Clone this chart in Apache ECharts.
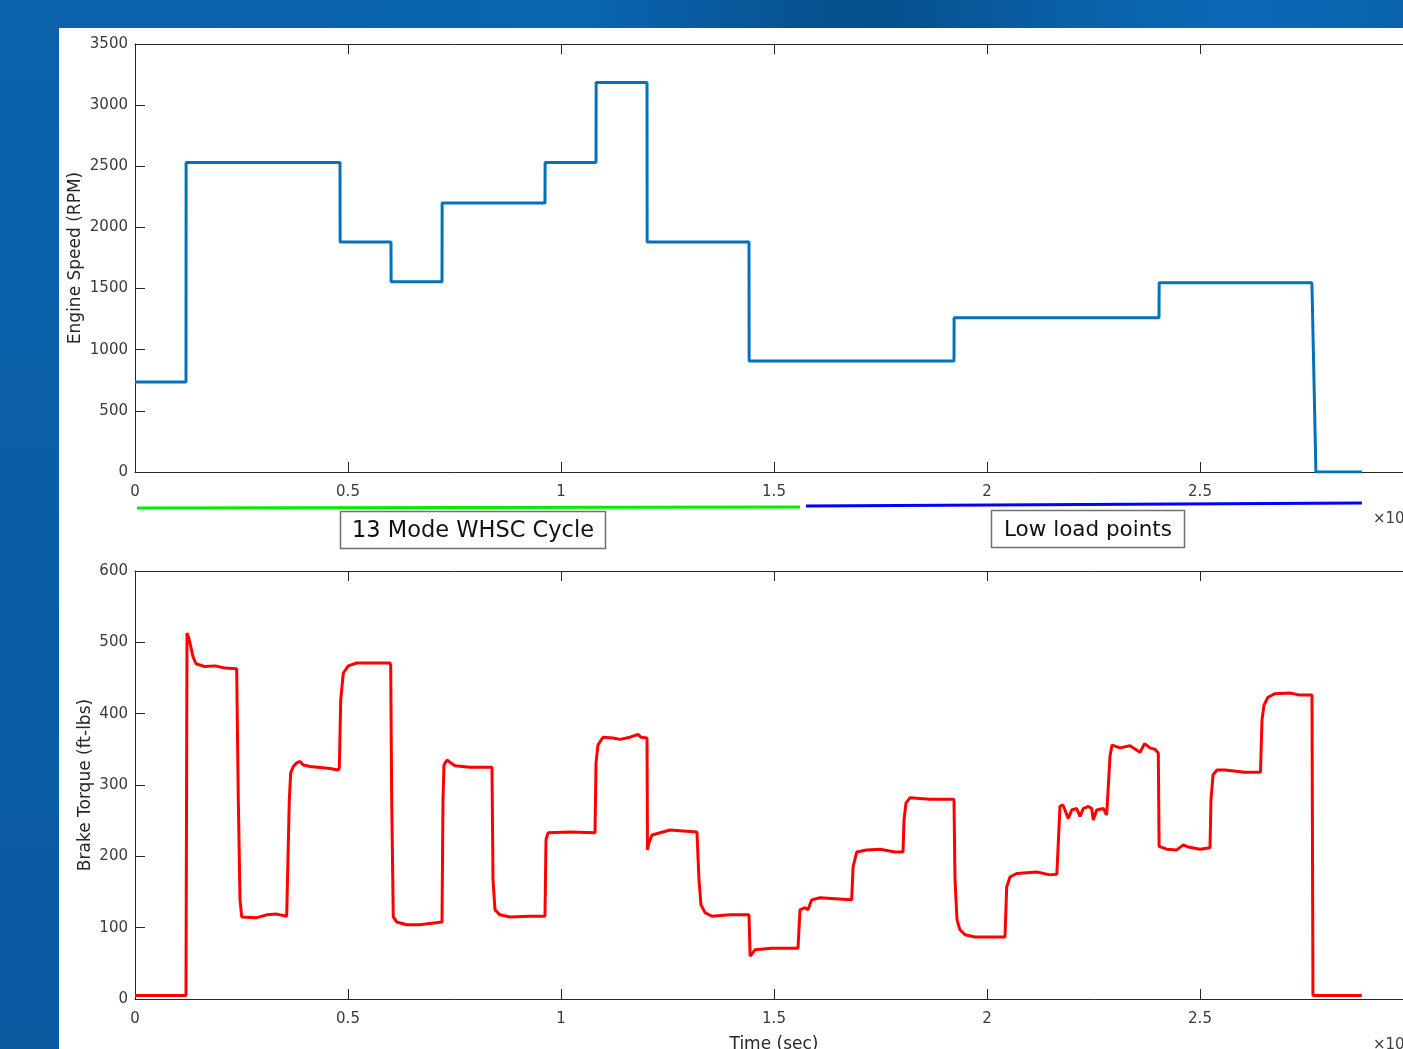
<!DOCTYPE html>
<html>
<head>
<meta charset="utf-8">
<script src="https://cdn.jsdelivr.net/npm/echarts/dist/echarts.min.js"></script>
<style>
html,body{margin:0;padding:0;overflow:hidden;width:1403px;height:1049px;}
body{background:linear-gradient(90deg,#0b61aa 0%,#0a64b0 42%,#07528f 58%,#06508c 63%,#0a60a6 76%,#0b69b7 88%,#0a62ad 100%);}
#bgleft{position:absolute;left:0;top:28px;width:59px;height:1021px;background:linear-gradient(180deg,#0a62ab,#0a5aa0);}
#paper{position:absolute;left:59px;top:28px;width:1420px;height:1040px;background:#ffffff;}
#chart{position:absolute;left:0;top:0;width:1460px;height:1049px;}
</style>
</head>
<body>
<div id="bgleft"></div>
<div id="paper"></div>
<div id="chart"></div>
<script>
// ---- data (time in seconds) ----
const speedTime = [0, 1197, 1200, 4812, 4815, 6009, 6012, 7207, 7210, 9624, 9627, 10822, 10825, 12019, 12022, 14413, 14416, 19225, 19228, 24038, 24041, 27627, 27721, 28800];
const speedRpm  = [735, 735, 2530, 2530, 1880, 1880, 1555, 1555, 2200, 2200, 2530, 2530, 3185, 3185, 1880, 1880, 908, 908, 1262, 1262, 1547, 1547, 0, 0];

const torqueTime = [0, 1197, 1221, 1268, 1361, 1432, 1643, 1878, 2113, 2387, 2425, 2465, 2505, 2542, 2857, 3092, 3326, 3561, 3599, 3622, 3655, 3716, 3796, 3873, 3951, 4108, 4577, 4772, 4796, 4829, 4890, 5007, 5204, 5359, 5986, 6002, 6026, 6063, 6143, 6378, 6690, 6925, 7207, 7230, 7253, 7324, 7394, 7512, 7864, 8380, 8404, 8451, 8568, 8803, 9272, 9624, 9648, 9695, 10211, 10798, 10810, 10822, 10868, 10986, 11221, 11385, 11620, 11807, 11878, 12019, 12030, 12066, 12136, 12559, 13192, 13216, 13239, 13286, 13380, 13544, 13967, 14413, 14440, 14554, 14946, 15563, 15610, 15727, 15798, 15885, 16080, 16620, 16824, 16855, 16942, 17176, 17488, 17840, 18028, 18052, 18099, 18192, 18662, 19225, 19249, 19296, 19366, 19483, 19718, 20422, 20462, 20540, 20697, 21166, 21479, 21640, 21713, 21784, 21908, 21988, 22105, 22183, 22260, 22378, 22457, 22495, 22574, 22730, 22809, 22830, 22887, 22934, 23122, 23357, 23591, 23700, 23826, 23943, 24021, 24040, 24218, 24453, 24609, 24727, 25000, 25235, 25258, 25305, 25399, 25587, 26056, 26420, 26455, 26502, 26596, 26760, 27112, 27347, 27629, 27652, 28800];
const torqueFtLbs = [5, 5, 513, 505, 480, 470, 466, 467, 464, 463, 279, 139, 115, 113, 114, 118, 119, 116, 116, 279, 317, 326, 331, 333, 328, 326, 323, 321, 324, 419, 457, 467, 471, 471, 471, 468, 279, 115, 108, 104, 104, 106, 108, 279, 328, 335, 332, 327, 325, 325, 167, 125, 118, 115, 116, 116, 223, 233, 234, 233, 279, 331, 356, 367, 366, 364, 367, 371, 367, 366, 209, 219, 230, 237, 234, 234, 167, 132, 121, 116, 118, 118, 60, 69, 71, 71, 125, 128, 125, 139, 142, 140, 139, 185, 206, 209, 210, 206, 206, 251, 275, 282, 280, 280, 167, 111, 97, 90, 87, 87, 157, 171, 176, 178, 174, 175, 270, 272, 253, 265, 267, 256, 267, 270, 267, 251, 265, 267, 258, 258, 340, 356, 352, 355, 346, 358, 352, 350, 345, 214, 210, 209, 216, 213, 210, 212, 279, 314, 321, 321, 318, 318, 391, 412, 423, 428, 429, 426, 426, 5, 5];

// annotation bars (time span, small offset level in the annotation strip)
const cycleBarTime = [47, 15610];
const cycleBarLevel = [7, 8];
const lowLoadBarTime = [15751, 28800];
const lowLoadBarLevel = [9, 12];

const speedTicks = {min: 0, max: 3500, interval: 500};
const torqueTicks = {min: 0, max: 600, interval: 100};
const timeTicks = {min: 0, max: 30000, interval: 5000, scale: 10000};

const AX = '#262626';
const FONT = 'DejaVu Sans';
const zip = (a, b) => a.map((v, i) => [v, b[i]]);

function xAx(grid, pos, labels, name, margin) {
  return {
    type: 'value', gridIndex: grid, position: pos,
    min: timeTicks.min, max: timeTicks.max, interval: timeTicks.interval,
    axisLine: {show: true, onZero: false, lineStyle: {color: AX, width: 1}},
    axisTick: {show: true, inside: true, length: 10, lineStyle: {color: AX}},
    axisLabel: {show: labels, margin: margin || 13, color: '#3a3a3a', fontFamily: FONT, fontSize: 15,
      formatter: v => String(v / timeTicks.scale)},
    splitLine: {show: false},
    name: name || '', nameLocation: 'middle', nameGap: 37, nameMoveOverlap: false,
    nameTextStyle: {color: AX, fontFamily: FONT, fontSize: 17}
  };
}
function yAx(grid, pos, ticks, labels, name, gap) {
  return {
    type: 'value', gridIndex: grid, position: pos,
    min: ticks.min, max: ticks.max, interval: ticks.interval,
    axisLine: {show: true, onZero: false, lineStyle: {color: AX, width: 1}},
    axisTick: {show: true, inside: true, length: 10, lineStyle: {color: AX}},
    axisLabel: {show: labels, margin: 7, color: '#3a3a3a', fontFamily: FONT, fontSize: 15,
      formatter: v => String(v)},
    splitLine: {show: false},
    name: name || '', nameLocation: 'middle', nameGap: gap || 0, nameMoveOverlap: false,
    nameTextStyle: {color: AX, fontFamily: FONT, fontSize: 17}
  };
}

const chart = echarts.init(document.getElementById('chart'), null, {renderer: 'canvas'});
chart.setOption({
  animation: false,
  backgroundColor: 'transparent',
  grid: [
    {left: 135, top: 44, width: 1278, height: 428, containLabel: false, outerBoundsMode: 'none'},
    {left: 135, top: 571, width: 1278, height: 428, containLabel: false, outerBoundsMode: 'none'},
    {left: 135, top: 495, width: 1278, height: 20, containLabel: false, outerBoundsMode: 'none'}
  ],
  xAxis: [
    xAx(0, 'bottom', true, '', 13),
    xAx(0, 'top', false),
    xAx(1, 'bottom', true, 'Time (sec)', 13),
    xAx(1, 'top', false),
    {type: 'value', gridIndex: 2, min: timeTicks.min, max: timeTicks.max, show: false}
  ],
  yAxis: [
    yAx(0, 'left', speedTicks, true, 'Engine Speed (RPM)', 51),
    yAx(0, 'right', speedTicks, false),
    yAx(1, 'left', torqueTicks, true, 'Brake Torque (ft-lbs)', 41),
    yAx(1, 'right', torqueTicks, false),
    {type: 'value', gridIndex: 2, min: 0, max: 20, show: false}
  ],
  series: [
    {type: 'line', xAxisIndex: 0, yAxisIndex: 0, data: zip(speedTime, speedRpm),
      showSymbol: false, symbol: 'none', lineStyle: {color: '#0072bd', width: 3}, z: 3},
    {type: 'line', xAxisIndex: 2, yAxisIndex: 2, data: zip(torqueTime, torqueFtLbs),
      showSymbol: false, symbol: 'none', lineStyle: {color: '#ff0000', width: 3}, z: 3},
    {type: 'line', xAxisIndex: 4, yAxisIndex: 4, data: zip(cycleBarTime, cycleBarLevel),
      showSymbol: false, symbol: 'none', lineStyle: {color: '#00ee00', width: 3}},
    {type: 'line', xAxisIndex: 4, yAxisIndex: 4, data: zip(lowLoadBarTime, lowLoadBarLevel),
      showSymbol: false, symbol: 'none', lineStyle: {color: '#0000ff', width: 3}}
  ],
  graphic: [
    {type: 'rect', shape: {x: 340.5, y: 511.5, width: 265, height: 37},
      style: {fill: '#fff', stroke: '#707070', lineWidth: 1.5}, z: 10},
    {type: 'text', x: 473, y: 531, z: 11,
      style: {text: '13 Mode WHSC Cycle', font: '22.5px "DejaVu Sans"', fill: '#111', textAlign: 'center', textVerticalAlign: 'middle'}},
    {type: 'rect', shape: {x: 991.5, y: 510.5, width: 193, height: 37},
      style: {fill: '#fff', stroke: '#707070', lineWidth: 1.5}, z: 10},
    {type: 'text', x: 1088, y: 530, z: 11,
      style: {text: 'Low load points', font: '21.5px "DejaVu Sans"', fill: '#111', textAlign: 'center', textVerticalAlign: 'middle'}},
    {type: 'text', x: 1373, y: 519, z: 11,
      style: {text: '×10⁴', font: '15px "DejaVu Sans"', fill: '#404040', textVerticalAlign: 'middle'}},
    {type: 'text', x: 1373, y: 1045, z: 11,
      style: {text: '×10⁴', font: '15px "DejaVu Sans"', fill: '#404040', textVerticalAlign: 'middle'}}
  ]
});
</script>
</body>
</html>
